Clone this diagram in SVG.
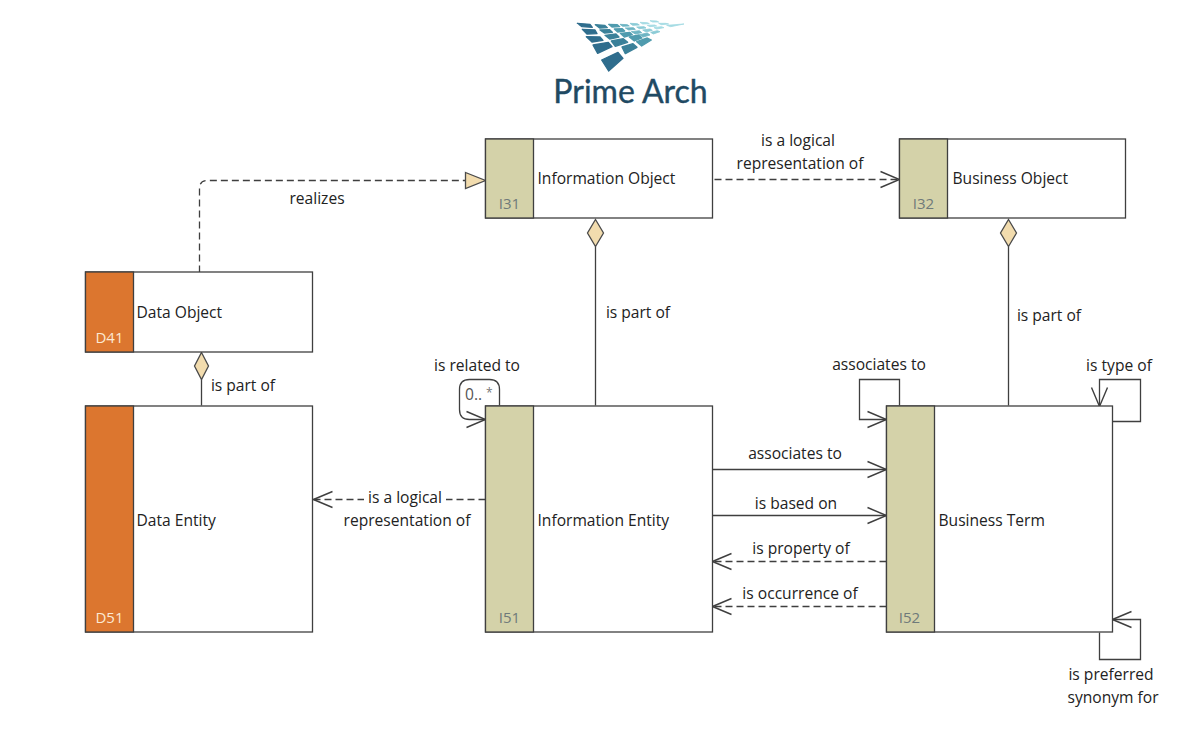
<svg xmlns="http://www.w3.org/2000/svg" width="1200" height="729" viewBox="0 0 1200 729">
<style>
text{font-family:"Open Sans","Noto Sans","DejaVu Sans",sans-serif;font-size:15.6px;fill:#222}
.m{text-anchor:middle}
.box{fill:#fff;stroke:#3f3f3f;stroke-width:1.3}
.i{fill:#d4d2a9;stroke:#3f3f3f;stroke-width:1.3}
.d{fill:#dc762f;stroke:#3f3f3f;stroke-width:1.3}
.ci{fill:#6f7a7a;text-anchor:middle;font-size:15px}
.cd{fill:#fbe9d3;text-anchor:middle;font-size:15px}
.l{fill:none;stroke:#3f3f3f;stroke-width:1.3}
.dash{stroke-dasharray:7 4}
.dia{fill:#f2dcae;stroke:#4a4a4a;stroke-width:1.3}
.tile{stroke-width:4;stroke-linejoin:round}
.thin{stroke-width:2.500;stroke-linejoin:round}
</style>
<defs>
<marker id="open" viewBox="0 0 22 22" refX="20" refY="11" markerWidth="22" markerHeight="22" markerUnits="userSpaceOnUse" orient="auto"><path d="M1 3L20 11L1 19" fill="none" stroke="#3f3f3f" stroke-width="1.400"/></marker>
</defs>
<g id="logo">
<g transform="translate(540 10) scale(.3333)">
<g class="tile" fill="#2f6d8d" stroke="#2f6d8d">
<polygon points="112,40 150,43 157,52 126,50"/>
<polygon points="127,58 165,60 171,71 141,72"/>
<polygon points="139,80 180,81 189,91 156,96"/>
<polygon points="159,105 205,97 216,110 173,130"/>
<polygon points="185,150 234,127 249,145 206,183"/>
</g>
<g class="tile" fill="#3a8099" stroke="#3a8099">
<polygon points="166,44 194,46 202,53 179,54"/>
<polygon points="180,60 209,59 217,67 193,69"/>
<polygon points="195,76 228,72 237,81 209,87"/>
<polygon points="214,93 250,86 263,97 226,109"/>
<polygon points="246,111 279,101 291,112 256,131"/>
</g>
<g class="tile" fill="#4f9bae" stroke="#4f9bae">
<polygon points="206,43 232,44 239,50 216,51"/>
<polygon points="223,57 247,56 254,63 233,66"/>
<polygon points="241,70 269,67 277,74 253,81"/>
<polygon points="268,81 296,75 306,84 283,93"/>
<polygon points="290,95 322,84 334,90 305,108"/>
</g>
<g class="thin" fill="#6db4c3" stroke="#6db4c3">
<polygon points="240,43 262,44 268,48 248,49"/>
<polygon points="256,54 280,53 286,58 266,60"/>
<polygon points="274,65 298,62 305,68 286,72"/>
<polygon points="298,74 322,69 330,75 310,81"/>
</g>
<g class="thin" fill="#8ccbd6" stroke="#8ccbd6">
<polygon points="270,40 292,41 298,45 278,46"/>
<polygon points="290,51 312,50 318,54 298,56"/>
<polygon points="308,60 330,57 337,61 318,66"/>
<polygon points="332,67 352,62 360,65 340,72"/>
</g>
<g class="thin" fill="#a5dbe3" stroke="#a5dbe3">
<polygon points="300,37 322,38 328,41 308,42"/>
<polygon points="322,46 344,45 350,48 330,50"/>
<polygon points="342,53 364,50 372,53 350,57"/>
<polygon points="330,32 350,33 356,36 338,36"/>
<polygon points="356,40 378,40 386,42 364,44"/>
<polygon points="380,46 405,44 432,42 392,50"/>
</g>
</g>
<text x="630.500" y="103" class="m" style="font-family:'Lato','Open Sans',sans-serif;font-size:32px;fill:#1f4a63;stroke:#1f4a63;stroke-width:.4">Prime Arch</text>
</g>

<g id="connectors" transform="translate(.5 .5)">
<path class="l dash" d="M199 272V188Q199 180 207 180H467"/>
<path class="dia" d="M465 172L485 180L465 188Z"/>
<path class="l dash" marker-end="url(#open)" d="M714 179H899"/>
<path class="l" d="M595 405V246"/>
<path class="dia" d="M595 219L603 232.500L595 246L587 232.500Z"/>
<path class="l" d="M1008 405V246"/>
<path class="dia" d="M1008 219L1016 232.500L1008 246L1000 232.500Z"/>
<path class="l" d="M201 405V379"/>
<path class="dia" d="M201 352L208 365.500L201 379L194 365.500Z"/>
<path class="l dash" marker-end="url(#open)" d="M485 499H313"/>
<path class="l" marker-end="url(#open)" d="M712 469H886"/>
<path class="l" marker-end="url(#open)" d="M712 515H886"/>
<path class="l dash" marker-end="url(#open)" d="M886 561H712"/>
<path class="l dash" marker-end="url(#open)" d="M886 606H712"/>
<path class="l" marker-end="url(#open)" d="M899 405V379H859V419H886"/>
<path class="l" marker-end="url(#open)" d="M1112 421H1140V379H1099V406"/>
<path class="l" marker-end="url(#open)" d="M1099 632V659H1140V619H1112"/>
<path class="l" marker-end="url(#open)" d="M499 405V389Q499 379 489 379H469Q459 379 459 389V409Q459 419 469 419H485"/>
</g>

<g id="I31" transform="translate(.5 0)"><rect class="box" x="485" y="139" width="227" height="79"/><rect class="i" x="485" y="139" width="48" height="79"/><text x="537" y="184">Information Object</text><text class="ci" x="509" y="209">I31</text></g>
<g id="I32" transform="translate(.5 0)"><rect class="box" x="899" y="139" width="226" height="79"/><rect class="i" x="899" y="139" width="48" height="79"/><text x="952" y="184">Business Object</text><text class="ci" x="923" y="209">I32</text></g>
<g id="D41" transform="translate(.5 0)"><rect class="box" x="85" y="272" width="227" height="80"/><rect class="d" x="85" y="272" width="48" height="80"/><text x="136" y="318">Data Object</text><text class="cd" x="109" y="343">D41</text></g>
<g id="D51" transform="translate(.5 0)"><rect class="box" x="85" y="406" width="227" height="226"/><rect class="d" x="85" y="406" width="48" height="226"/><text x="136" y="526">Data Entity</text><text class="cd" x="109" y="623">D51</text></g>
<g id="I51" transform="translate(.5 0)"><rect class="box" x="485" y="406" width="227" height="226"/><rect class="i" x="485" y="406" width="48" height="226"/><text x="537" y="526">Information Entity</text><text class="ci" x="509" y="623">I51</text></g>
<g id="I52" transform="translate(.5 0)"><rect class="box" x="886" y="406" width="226" height="226"/><rect class="i" x="886" y="406" width="48" height="226"/><text x="938" y="526">Business Term</text><text class="ci" x="909" y="623">I52</text></g>

<g id="labels">
<text class="m" x="317" y="204">realizes</text>
<text class="m" x="798" y="146">is a logical</text>
<text class="m" x="800" y="168.500">representation of</text>
<text class="m" x="638" y="318">is part of</text>
<text class="m" x="1049" y="321">is part of</text>
<text class="m" x="243" y="391">is part of</text>
<text class="m" x="477" y="371">is related to</text>
<text x="465" y="400" style="fill:#555">0..</text><text x="486" y="397" style="fill:#777;font-size:12px">*</text>
<text class="m" x="879" y="370">associates to</text>
<text class="m" x="1119" y="371">is type of</text>
<text class="m" x="795" y="459">associates to</text>
<text class="m" x="796" y="509">is based on</text>
<text class="m" x="801" y="554">is property of</text>
<text class="m" x="800" y="599">is occurrence of</text>
<rect x="364" y="490" width="82" height="18" fill="#fff"/>
<text class="m" x="405" y="503">is a logical</text>
<text class="m" x="407" y="526">representation of</text>
<text class="m" x="1111" y="680">is preferred</text>
<text class="m" x="1113" y="703">synonym for</text>
</g>
</svg>
